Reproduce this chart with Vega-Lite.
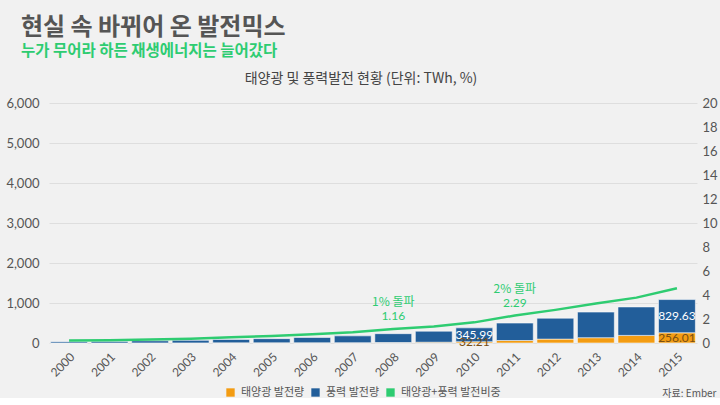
{
  "$schema": "https://vega.github.io/schema/vega-lite/v6.json",
  "background": "#f1f1f1",
  "padding": {"left": 5, "top": 15, "right": 5, "bottom": 0},
  "config": {
    "font": "Lato, 'Noto Sans CJK KR', sans-serif",
    "view": {"stroke": null}
  },
  "title": {
    "text": "현실 속 바뀌어 온 발전믹스",
    "subtitle": "누가 무어라 하든 재생에너지는 늘어갔다",
    "anchor": "start",
    "frame": "bounds",
    "dx": 15,
    "font": "'Noto Sans CJK KR', sans-serif",
    "fontSize": 24,
    "fontWeight": "bold",
    "color": "#555555",
    "subtitleFont": "'Noto Sans CJK KR', sans-serif",
    "subtitleFontSize": 15.5,
    "subtitleFontWeight": "bold",
    "subtitleColor": "#2ecc71",
    "subtitlePadding": 4,
    "offset": 13
  },
  "datasets": {
    "gen": [
      {"year": 2000, "series": "태양광 발전량", "value": 1.1},
      {"year": 2000, "series": "풍력 발전량", "value": 31.4},
      {"year": 2001, "series": "태양광 발전량", "value": 1.5},
      {"year": 2001, "series": "풍력 발전량", "value": 38.3},
      {"year": 2002, "series": "태양광 발전량", "value": 2.0},
      {"year": 2002, "series": "풍력 발전량", "value": 52.3},
      {"year": 2003, "series": "태양광 발전량", "value": 2.7},
      {"year": 2003, "series": "풍력 발전량", "value": 63.2},
      {"year": 2004, "series": "태양광 발전량", "value": 3.5},
      {"year": 2004, "series": "풍력 발전량", "value": 85.3},
      {"year": 2005, "series": "태양광 발전량", "value": 4.4},
      {"year": 2005, "series": "풍력 발전량", "value": 104.2},
      {"year": 2006, "series": "태양광 발전량", "value": 5.8},
      {"year": 2006, "series": "풍력 발전량", "value": 132.7},
      {"year": 2007, "series": "태양광 발전량", "value": 7.6},
      {"year": 2007, "series": "풍력 발전량", "value": 170.8},
      {"year": 2008, "series": "태양광 발전량", "value": 12.2},
      {"year": 2008, "series": "풍력 발전량", "value": 220.9},
      {"year": 2009, "series": "태양광 발전량", "value": 20.1},
      {"year": 2009, "series": "풍력 발전량", "value": 275.6},
      {"year": 2010, "series": "태양광 발전량", "value": 32.21},
      {"year": 2010, "series": "풍력 발전량", "value": 345.99},
      {"year": 2011, "series": "태양광 발전량", "value": 62.2},
      {"year": 2011, "series": "풍력 발전량", "value": 436.6},
      {"year": 2012, "series": "태양광 발전량", "value": 97.3},
      {"year": 2012, "series": "풍력 발전량", "value": 523.3},
      {"year": 2013, "series": "태양광 발전량", "value": 132.5},
      {"year": 2013, "series": "풍력 발전량", "value": 640.8},
      {"year": 2014, "series": "태양광 발전량", "value": 190.0},
      {"year": 2014, "series": "풍력 발전량", "value": 711.5},
      {"year": 2015, "series": "태양광 발전량", "value": 256.01},
      {"year": 2015, "series": "풍력 발전량", "value": 829.63}
    ],
    "share": [
      {"year": 2000, "share": 0.2},
      {"year": 2001, "share": 0.23},
      {"year": 2002, "share": 0.29},
      {"year": 2003, "share": 0.36},
      {"year": 2004, "share": 0.47},
      {"year": 2005, "share": 0.58},
      {"year": 2006, "share": 0.73},
      {"year": 2007, "share": 0.89},
      {"year": 2008, "share": 1.16},
      {"year": 2009, "share": 1.38},
      {"year": 2010, "share": 1.72},
      {"year": 2011, "share": 2.29},
      {"year": 2012, "share": 2.76},
      {"year": 2013, "share": 3.3},
      {"year": 2014, "share": 3.78},
      {"year": 2015, "share": 4.56}
    ],
    "notes": [
      {"year": 2008, "share": 1.16, "note": "1% 돌파"},
      {"year": 2011, "share": 2.29, "note": "2% 돌파"}
    ]
  },
  "vconcat": [
    {
      "width": 648,
      "height": 240,
      "title": {
        "text": "태양광 및 풍력발전 현황 (단위: TWh, %)",
        "anchor": "middle",
        "dx": -12,
        "font": "'Noto Sans CJK KR', sans-serif",
        "fontSize": 14,
        "fontWeight": "normal",
        "color": "#444444",
        "offset": 11
      },
      "encoding": {
        "x": {
          "field": "year",
          "type": "ordinal",
          "scale": {"paddingInner": 0.09, "paddingOuter": 0.04},
          "axis": {
            "labelAngle": -45,
            "labelFontSize": 12,
            "labelColor": "#555555",
            "ticks": false,
            "domain": false,
            "labelPadding": 8,
            "title": "자료: Ember",
            "titleFont": "'Noto Sans CJK KR', sans-serif",
            "titleFontSize": 10,
            "titleFontWeight": "normal",
            "titleColor": "#555555",
            "titleAnchor": "end",
            "titleAlign": "right",
            "titleBaseline": "middle",
            "titleX": 667,
            "titleY": 50
          }
        }
      },
      "layer": [
        {
          "data": {"name": "gen"},
          "mark": {"type": "bar", "stroke": "#ffffff", "strokeOpacity": 0.55, "strokeWidth": 1},
          "encoding": {
            "y": {
              "field": "value",
              "type": "quantitative",
              "stack": "zero",
              "scale": {"domain": [0, 6000], "nice": false},
              "axis": {
                "title": null,
                "values": [0, 1000, 2000, 3000, 4000, 5000, 6000],
                "format": ",.0f",
                "labelFontSize": 13,
                "labelColor": "#555555",
                "grid": true,
                "gridColor": "#dedede",
                "domain": false,
                "ticks": false,
                "labelPadding": 10
              }
            },
            "order": {"field": "series", "sort": "ascending"},
            "color": {
              "field": "series",
              "type": "nominal",
              "scale": {
                "domain": ["태양광 발전량", "풍력 발전량", "태양광+풍력 발전비중"],
                "range": ["#f39c12", "#225e9a", "#2ecc71"]
              },
              "legend": {
                "title": null,
                "orient": "none",
                "direction": "horizontal",
                "legendX": 176,
                "legendY": 284,
                "gridAlign": "none",
                "symbolType": "square",
                "symbolSize": 70,
                "symbolStrokeWidth": 0,
                "labelFont": "'Noto Sans CJK KR', sans-serif",
                "labelFontSize": 11,
                "labelColor": "#555555",
                "columnPadding": 5,
                "labelOffset": 5
              }
            }
          }
        },
        {
          "data": {"name": "gen"},
          "transform": [
            {"filter": {"field": "year", "oneOf": [2010, 2015]}},
            {"stack": "value", "groupby": ["year"], "sort": [{"field": "series", "order": "ascending"}], "as": ["v0", "v1"]},
            {"calculate": "(datum.v0 + datum.v1) / 2", "as": "mid"}
          ],
          "mark": {"type": "text", "fontSize": 12, "font": "Lato, sans-serif", "baseline": "middle"},
          "encoding": {
            "y": {"field": "mid", "type": "quantitative", "scale": {"domain": [0, 6000], "nice": false}, "axis": null},
            "text": {"field": "value", "type": "quantitative", "format": ".2f"},
            "color": {
              "condition": {"test": "datum.series === '풍력 발전량'", "value": "#ffffff"},
              "value": "#7a4e12"
            }
          }
        },
        {
          "data": {"name": "share"},
          "mark": {"type": "line", "color": "#2ecc71", "strokeWidth": 2.5},
          "encoding": {
            "y": {
              "field": "share",
              "type": "quantitative",
              "scale": {"domain": [0, 20], "nice": false},
              "axis": {
                "orient": "right",
                "title": null,
                "values": [0, 2, 4, 6, 8, 10, 12, 14, 16, 18, 20],
                "labelFontSize": 13,
                "labelColor": "#555555",
                "grid": false,
                "domain": false,
                "ticks": false,
                "labelPadding": 5
              }
            }
          }
        },
        {
          "data": {"name": "notes"},
          "mark": {"type": "text", "color": "#2ecc71", "fontSize": 12, "dy": -27, "font": "'Noto Sans CJK KR', sans-serif"},
          "encoding": {
            "y": {"field": "share", "type": "quantitative", "scale": {"domain": [0, 20], "nice": false}, "axis": null},
            "text": {"field": "note"}
          }
        },
        {
          "data": {"name": "notes"},
          "mark": {"type": "text", "color": "#2ecc71", "fontSize": 12, "dy": -13, "font": "Lato, sans-serif"},
          "encoding": {
            "y": {"field": "share", "type": "quantitative", "scale": {"domain": [0, 20], "nice": false}, "axis": null},
            "text": {"field": "share", "type": "quantitative", "format": ".2f"}
          }
        }
      ],
      "resolve": {"scale": {"y": "independent"}, "axis": {"y": "independent"}}
    }
  ]
}
